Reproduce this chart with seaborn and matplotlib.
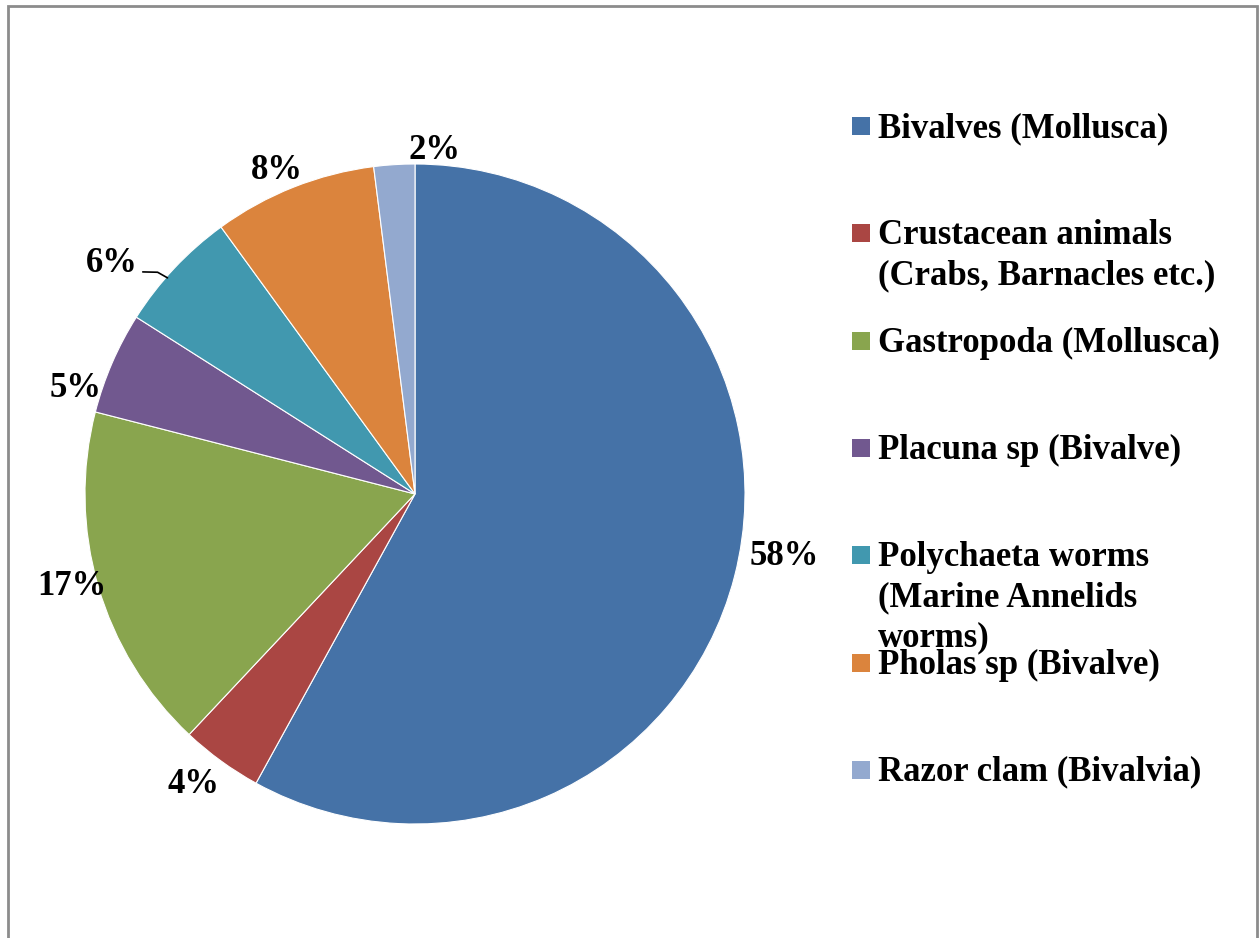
import matplotlib.pyplot as plt
import numpy as np
import seaborn as sns
from matplotlib.patches import Rectangle

sns.set_theme(style="white")
plt.rcParams["font.family"] = ["Liberation Serif", "DejaVu Serif"]
plt.rcParams["font.weight"] = "bold"
plt.rcParams["text.color"] = "black"

categories = [
    "Bivalves (Mollusca)",
    "Crustacean animals\n(Crabs, Barnacles etc.)",
    "Gastropoda (Mollusca)",
    "Placuna sp (Bivalve)",
    "Polychaeta worms\n(Marine Annelids\nworms)",
    "Pholas sp (Bivalve)",
    "Razor clam (Bivalvia)",
]
shares = [58, 4, 17, 5, 6, 8, 2]
colors = ["#4572A7", "#AA4643", "#89A54E", "#71588F", "#4198AF", "#DB843D", "#93A9CF"]

# label anchor points (data units, pie radius = 1), mimicking Excel's best-fit placement
label_pos = [(1.12, -0.19), (-0.67, -0.88), (-1.04, -0.28), (-1.03, 0.32),
             (-0.92, 0.70), (-0.42, 0.98), (0.06, 1.04)]

W, H = 1260, 938
fig = plt.figure(figsize=(W / 100, H / 100), dpi=100)
fig.patch.set_facecolor("white")

cx, cy, r = 415, 494, 330
span = 1.2
ax = fig.add_axes([(cx - r * span) / W, (H - cy - r * span) / H, 2 * r * span / W, 2 * r * span / H])
ax.pie(shares, colors=colors, startangle=90, counterclock=False, radius=1,
       wedgeprops=dict(linewidth=0.8, edgecolor="white"))
ax.set_xlim(-span, span)
ax.set_ylim(-span, span)
ax.set_aspect("equal")
ax.axis("off")

for val, (x, y) in zip(shares, label_pos):
    ax.text(x, y, f"{val}%", ha="center", va="center", fontsize=25,
            fontweight="bold", color="black", clip_on=False)

# leader line for the 6% label
ax.plot([-0.825, -0.78, -0.75], [0.673, 0.672, 0.655], color="black", lw=1.2, clip_on=False)

# legend, Excel style: evenly spaced slots, text wraps downward
slot_top = 126
slot_step = 107.3
line_step = 40
for i, (lab, col) in enumerate(zip(categories, colors)):
    yc = slot_top + i * slot_step
    fig.patches.append(Rectangle((852 / W, (H - yc - 9) / H), 18 / W, 18 / H,
                                 transform=fig.transFigure, facecolor=col, edgecolor="none"))
    for j, line in enumerate(lab.split("\n")):
        fig.text(878 / W, (H - yc - 11 - j * line_step) / H, line, ha="left",
                 va="baseline", fontsize=25, fontweight="bold", color="black")

# outer chart frame
fig.patches.append(Rectangle((8 / W, -0.05), 1249 / W, (H - 6) / H + 0.05,
                             transform=fig.transFigure, facecolor="none",
                             edgecolor="#8c8c8c", linewidth=2))

fig.savefig("out.png", dpi=100)
